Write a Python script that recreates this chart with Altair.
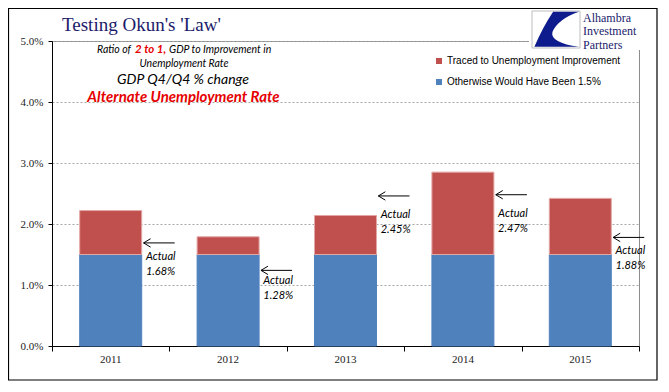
import altair as alt
import pandas as pd

# ---- data ----
years = ["2011", "2012", "2013", "2014", "2015"]
otherwise = [1.5, 1.5, 1.5, 1.5, 1.5]
traced = [0.72, 0.29, 0.64, 1.35, 0.92]
actual_text = ["1.68%", "1.28%", "2.45%", "2.47%", "1.88%"]
arrow_level = [1.69, 1.24, 2.46, 2.48, 1.78]
label_level = [1.46, 1.07, 2.14, 2.17, 1.56]
y_ticks = [0, 1, 2, 3, 4, 5]
series = ["Traced to Unemployment Improvement", "Otherwise Would Have Been 1.5%"]
colors = ["#C0504D", "#4F81BD"]

W, H = 587, 305
HALF = 0.264

rows = []
for i, yr in enumerate(years):
    c = i + 0.5
    rows.append(dict(year=yr, series=series[1], x=c - HALF, x2=c + HALF, y=0.0, y2=otherwise[i]))
    rows.append(dict(year=yr, series=series[0], x=c - HALF, x2=c + HALF, y=otherwise[i], y2=otherwise[i] + traced[i]))
bars_df = pd.DataFrame(rows)

ann_df = pd.DataFrame({
    "year": years,
    "c": [i + 0.5 for i in range(len(years))],
    "arrow": arrow_level,
    "lab": label_level,
    "val": actual_text,
})
ann_df["a0"] = ann_df["c"] + 0.28
ann_df["a1"] = ann_df["c"] + 0.545
ann_df["tx"] = ann_df["c"] + 0.30
ann_df["lab2"] = ann_df["lab"] - 15 / 61.0

xs = alt.Scale(domain=[0, 5], nice=False, zero=False)
ys = alt.Scale(domain=[0, 5], nice=False, zero=False)
x_axis = alt.Axis(values=y_ticks, labels=False, tickSize=5, tickColor="black",
                  domainColor="black", grid=False, title=None)
y_axis = alt.Axis(values=y_ticks, labelExpr="format(datum.value, '.1f') + '%'",
                  tickSize=4, tickColor="black", domainColor="black",
                  labelPadding=5, labelFont="Liberation Serif", labelFontSize=11,
                  labelColor="#222", gridDash=[2, 2], gridColor="#A6A6A6", title=None)


def X(f):
    return alt.X(f, scale=xs, axis=x_axis)


def Y(f):
    return alt.Y(f, scale=ys, axis=y_axis)


bars = alt.Chart(bars_df).mark_bar(strokeWidth=1).encode(
    x=X("x:Q"), x2="x2:Q",
    y=Y("y:Q"), y2="y2:Q",
    color=alt.Color("series:N", scale=alt.Scale(domain=series, range=colors),
                    legend=alt.Legend(orient="none", legendX=382, legendY=15, title=None,
                                      symbolType="square", symbolSize=36, symbolStrokeWidth=0,
                                      labelFont="Liberation Sans", labelFontSize=10, labelColor="black",
                                      labelOffset=3, rowPadding=11, labelLimit=0)),
    stroke=alt.condition(alt.datum.series == series[0], alt.value("#E2A6A4"), alt.value("#4F81BD")),
)

ann = alt.Chart(ann_df)
arrows = ann.mark_rule(color="black", strokeWidth=1).encode(
    x=X("a0:Q"), x2="a1:Q", y=Y("arrow:Q"),
)
heads = ann.mark_point(shape="M 2 -1.2 L 0 0 L 2 1.2", filled=False, size=49, color="black",
                       strokeWidth=1, opacity=1).encode(
    x=X("a0:Q"), y=Y("arrow:Q"),
)
lab1 = ann.mark_text(align="left", baseline="middle", font="Lato", fontStyle="italic",
                     fontSize=11, color="black").encode(
    x=X("tx:Q"), y=Y("lab:Q"), text=alt.value("Actual"),
)
lab2 = ann.mark_text(align="left", baseline="middle", font="Lato", fontStyle="italic",
                     fontSize=11, color="black").encode(
    x=X("tx:Q"), y=Y("lab2:Q"), text="val:N",
)
year_lab = ann.mark_text(align="center", baseline="middle", font="Liberation Serif", fontSize=11,
                         color="#222").encode(
    x=X("c:Q"), y=alt.value(H + 14), text="year:N",
)


def txt(s, x, y, size, color="black", weight="normal", style="italic", align="center",
        font="Lato", baseline="middle"):
    return alt.Chart(pd.DataFrame({"t": [s]})).mark_text(
        align=align, baseline=baseline, font=font, fontSize=size, fontStyle=style,
        fontWeight=weight, color=color,
    ).encode(x=alt.value(x), y=alt.value(y), text="t:N")


red = "#E60000"
navy = "#1B1B6B"
notes = [
    txt("Ratio of", 45, 9, 10.5, align="left"),
    txt("2 to 1,", 83, 9, 11.5, color=red, weight="bold", align="left"),
    txt("GDP to Improvement in", 117, 9, 10.5, align="left"),
    txt("Unemployment Rate", 132, 23, 10.5),
    txt("GDP Q4/Q4 % change", 131, 39, 14),
    txt("Alternate Unemployment Rate", 131.5, 56, 15, color=red, weight="bold"),
]

title = txt("Testing Okun's 'Law'", 10, -10, 19, color=navy, style="normal", align="left",
            font="Liberation Serif", baseline="alphabetic")

one = pd.DataFrame({"k": [0]})
frame = alt.Chart(one).mark_rect(fillOpacity=0, stroke="black", strokeWidth=1.2).encode(
    x=alt.value(-43.5), x2=alt.value(605), y=alt.value(-32.5), y2=alt.value(339))
logo_bg = alt.Chart(one).mark_rect(fill="white", strokeOpacity=0).encode(
    x=alt.value(477), x2=alt.value(604), y=alt.value(-31), y2=alt.value(9))
logo_box = alt.Chart(one).mark_rect(fill="white", stroke="#BDBDBD", strokeWidth=1).encode(
    x=alt.value(480), x2=alt.value(528), y=alt.value(-30), y2=alt.value(7))
swoosh = alt.Chart(one).mark_point(
    shape="M -0.12 -0.74 L 0.96 -0.74 Q 0.1 -0.45 -0.15 0.1 Q -0.25 0.55 0.96 0.72 L -0.9 0.72 Q -0.55 -0.1 -0.12 -0.74 Z",
    filled=True, size=2304, color="#0E1B8C", opacity=1, strokeWidth=0,
).encode(x=alt.value(504), y=alt.value(-11.5))
logo_txt = [
    txt("Alhambra", 531, -23.5, 12, color=navy, style="normal", align="left", font="Liberation Serif"),
    txt("Investment", 531, -10, 12, color=navy, style="normal", align="left", font="Liberation Serif"),
    txt("Partners", 531, 3.5, 12, color=navy, style="normal", align="left", font="Liberation Serif"),
]

chart = alt.layer(
    bars, arrows, heads, lab1, lab2, year_lab, *notes, title, frame, logo_bg, logo_box, swoosh, *logo_txt
).properties(
    width=W, height=H,
    autosize=alt.AutoSizeParams(type="none"),
    padding={"left": 44, "top": 33, "right": 22, "bottom": 38},
    background="white",
).configure_view(
    stroke="#8C8C8C", strokeWidth=1
).configure_axis(
    domainWidth=1, tickWidth=1
)

chart.save("out.html", embed_options={"renderer": "svg", "actions": False})
